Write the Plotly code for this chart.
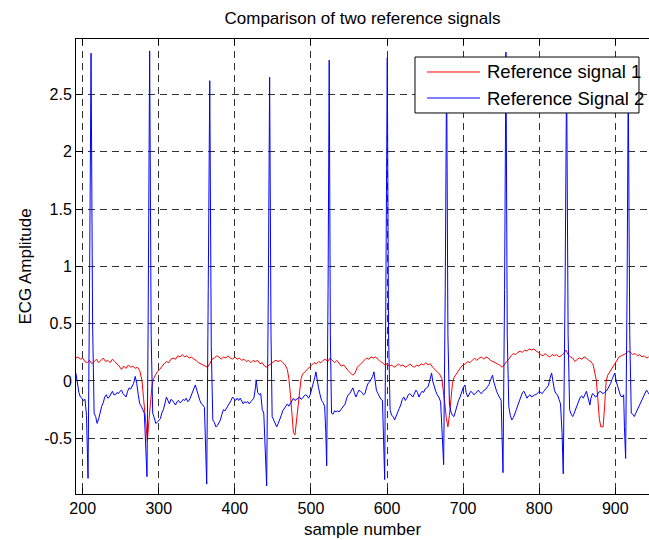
import plotly.graph_objects as go

# Reference signal 1 (red)
red_x = [191, 194, 197, 200, 203, 206, 209, 212, 215, 218, 221, 224, 227, 230, 233, 236, 239, 242, 245, 248,
         251, 254, 257, 260, 263, 266, 269, 272, 275, 278, 280, 282, 285, 287, 289, 291, 293, 295, 298, 301,
         304, 307, 310, 313, 316, 319, 322, 325, 328, 331, 334, 337, 340, 343, 346, 349, 352, 355, 358, 361,
         364, 367, 370, 373, 376, 379, 382, 385, 388, 391, 394, 397, 400, 403, 406, 409, 412, 415, 418, 421,
         424, 427, 430, 433, 436, 439, 442, 445, 448, 451, 454, 457, 460, 463, 466, 469, 471, 473, 475, 477,
         479, 481, 483, 485, 487, 489, 492, 495, 498, 501, 504, 507, 510, 513, 516, 519, 522, 525, 528, 531,
         534, 537, 540, 543, 546, 549, 552, 555, 558, 561, 564, 567, 570, 573, 576, 579, 582, 585, 588, 591,
         594, 597, 600, 603, 606, 609, 612, 615, 618, 621, 624, 627, 630, 633, 636, 639, 642, 645, 648, 651,
         654, 657, 660, 663, 666, 669, 672, 674, 676, 678, 680, 682, 684, 686, 688, 691, 694, 697, 700, 703,
         706, 709, 712, 715, 718, 721, 724, 727, 730, 733, 736, 739, 742, 745, 748, 751, 754, 757, 760, 763,
         766, 769, 772, 775, 778, 781, 784, 787, 790, 793, 796, 799, 802, 805, 808, 811, 814, 817, 820, 823,
         826, 829, 832, 835, 838, 841, 844, 847, 850, 853, 856, 859, 862, 865, 868, 871, 873, 875, 877, 879,
         881, 884, 886, 888, 890, 893, 896, 899, 902, 905, 908, 911, 914, 917, 920, 923, 926, 929, 932, 935,
         938, 941, 944]
red_y = [0.20, 0.21, 0.19, 0.20, 0.17, 0.16, 0.18, 0.15, 0.17, 0.19, 0.16, 0.18, 0.20, 0.17, 0.18, 0.16, 0.19, 0.17, 0.15, 0.13,
         0.10, 0.13, 0.11, 0.14, 0.12, 0.13, 0.11, 0.12, 0.09, 0.00, -0.15, -0.32, -0.52, -0.35, -0.18, -0.05, 0.02, 0.05, 0.08, 0.10,
         0.13, 0.15, 0.17, 0.16, 0.19, 0.20, 0.19, 0.22, 0.21, 0.23, 0.21, 0.22, 0.20, 0.21, 0.19, 0.18, 0.16, 0.15, 0.14, 0.13,
         0.12, 0.15, 0.19, 0.20, 0.22, 0.21, 0.19, 0.21, 0.20, 0.22, 0.20, 0.19, 0.21, 0.19, 0.20, 0.18, 0.19, 0.17, 0.18, 0.16,
         0.18, 0.17, 0.18, 0.15, 0.16, 0.13, 0.12, 0.14, 0.15, 0.17, 0.18, 0.17, 0.18, 0.16, 0.14, 0.10, 0.02, -0.12, -0.30, -0.45,
         -0.47, -0.35, -0.18, -0.06, 0.02, 0.06, 0.08, 0.10, 0.12, 0.14, 0.16, 0.15, 0.17, 0.16, 0.18, 0.19, 0.17, 0.20, 0.18, 0.16,
         0.18, 0.15, 0.13, 0.14, 0.11, 0.09, 0.07, 0.05, 0.07, 0.12, 0.14, 0.16, 0.18, 0.20, 0.19, 0.21, 0.20, 0.21, 0.19, 0.17,
         0.16, 0.14, 0.15, 0.13, 0.14, 0.12, 0.13, 0.15, 0.13, 0.14, 0.12, 0.13, 0.15, 0.13, 0.12, 0.14, 0.13, 0.15, 0.14, 0.16,
         0.14, 0.15, 0.12, 0.10, 0.08, 0.06, 0.02, -0.08, -0.20, -0.33, -0.40, -0.30, -0.14, -0.02, 0.03, 0.06, 0.10, 0.12, 0.14, 0.15,
         0.17, 0.16, 0.18, 0.20, 0.18, 0.20, 0.21, 0.19, 0.21, 0.20, 0.18, 0.17, 0.16, 0.15, 0.14, 0.12, 0.14, 0.17, 0.19, 0.22,
         0.24, 0.23, 0.25, 0.26, 0.25, 0.27, 0.26, 0.28, 0.27, 0.28, 0.26, 0.25, 0.23, 0.22, 0.24, 0.22, 0.21, 0.23, 0.22, 0.23,
         0.21, 0.22, 0.24, 0.27, 0.23, 0.21, 0.20, 0.17, 0.19, 0.20, 0.19, 0.21, 0.20, 0.18, 0.17, 0.14, 0.08, 0.01, -0.15, -0.33,
         -0.40, -0.40, -0.22, 0.00, 0.05, 0.08, 0.12, 0.15, 0.18, 0.21, 0.22, 0.23, 0.24, 0.26, 0.25, 0.23, 0.24, 0.22, 0.23, 0.21,
         0.22, 0.20, 0.21]

# Reference signal 2 (blue)
blue_x = [191, 193, 195, 197, 199, 201, 203, 205, 207, 209, 211, 213, 215, 217, 219, 221, 223, 225, 227, 229,
          231, 233, 235, 237, 239, 241, 243, 245, 247, 249, 251, 253, 255, 257, 259, 261, 263, 265, 267, 269,
          271, 273, 275, 277, 279, 281, 283, 284.5, 286, 288, 290, 292, 294, 296, 298, 300, 302, 304, 306, 308,
          310, 312, 314, 316, 318, 320, 322, 324, 326, 328, 330, 332, 334, 336, 338, 340, 342, 344, 346, 348,
          350, 352, 354, 356, 358, 360, 361.5, 363, 365, 367, 369, 371, 373, 375, 377, 379, 381, 383, 385, 387,
          389, 391, 393, 395, 397, 399, 401, 403, 405, 407, 409, 411, 413, 415, 417, 419, 421, 423, 425, 427,
          428, 430, 432, 434, 436, 438, 440, 441.8, 444, 445.7, 447.5, 449, 451, 453, 455, 457, 459, 461, 463, 465,
          467, 469, 471, 473, 475, 477, 479, 481, 483, 485, 487, 489, 491, 493, 495, 497, 499, 501, 503, 505,
          506.5, 508, 510, 512, 514, 516, 518, 519.5, 520.7, 522.5, 524, 525.5, 527, 529, 531, 533, 535, 537, 539, 541,
          543, 545, 547, 549, 551, 553, 555, 557, 559, 561, 563, 565, 567, 569, 571, 573, 575, 577, 579, 581,
          582.8, 584, 586, 588, 590, 592, 594, 595.5, 596.9, 598.5, 600.3, 602, 604, 606, 608, 610, 612, 614, 616, 618,
          620, 622, 624, 626, 628, 630, 632, 634, 636, 638, 640, 642, 644, 646, 648, 650, 652, 654, 656, 658.6,
          660, 662, 664, 666, 668, 670.4, 672.5, 674.4, 676.5, 678.3, 680, 682, 684, 686, 688, 690, 692, 694, 696, 698,
          700, 702.4, 704, 706, 708, 710, 712, 714, 716, 718, 720, 722, 724, 726, 728, 730, 732, 734, 736, 738.7,
          740, 742, 744, 746, 748, 750, 751, 752.4, 754.5, 756.3, 758, 760, 762, 764, 766, 768, 770, 772, 774, 776,
          778, 780, 782, 784, 786, 788, 790, 792, 794, 796, 798, 800, 802, 804, 806, 808, 810, 812, 814, 816.3,
          818, 820, 822, 824, 826, 828, 830, 831.6, 834, 836, 838, 840, 842, 844, 846, 848, 850, 852, 854, 856,
          858, 860, 862, 864, 866.6, 868, 870, 872, 874, 876, 878, 880, 882, 884, 886, 888, 890, 892, 894, 896,
          899.5, 901, 903, 905, 907, 909, 911, 912, 913.6, 915.5, 917, 919, 921, 923, 925, 927, 929, 931, 933, 935,
          937, 939, 941, 943, 945]
blue_y = [0.07, -0.02, -0.10, -0.14, -0.15, -0.17, -0.16, -0.30, -0.85, 0.80, 2.86, 0.50, -0.28, -0.31, -0.37, -0.33, -0.27, -0.22, -0.19, -0.14,
          -0.12, -0.15, -0.14, -0.11, -0.09, -0.12, -0.12, -0.10, -0.11, -0.09, -0.08, -0.11, -0.13, -0.14, -0.09, -0.06, -0.07, -0.05, -0.02, 0.04,
          -0.02, -0.12, -0.20, -0.22, -0.25, -0.28, -0.60, -0.835, 0.50, 2.88, 0.40, -0.28, -0.32, -0.37, -0.36, -0.34, -0.33, -0.28, -0.25, -0.20,
          -0.14, -0.17, -0.20, -0.16, -0.17, -0.19, -0.21, -0.18, -0.17, -0.19, -0.18, -0.16, -0.17, -0.15, -0.18, -0.17, -0.14, -0.11, -0.07, -0.035,
          -0.08, -0.14, -0.17, -0.20, -0.21, -0.23, -0.50, -0.90, 0.80, 2.62, 0.30, -0.34, -0.36, -0.40, -0.39, -0.36, -0.34, -0.29, -0.25, -0.26,
          -0.24, -0.22, -0.20, -0.17, -0.14, -0.16, -0.17, -0.15, -0.17, -0.15, -0.18, -0.20, -0.18, -0.19, -0.18, -0.20, -0.18, -0.16, -0.15, -0.06,
          0.01, -0.10, -0.12, -0.11, -0.25, -0.28, -0.55, -0.916, 0.80, 2.65, 0.40, -0.31, -0.34, -0.37, -0.40, -0.37, -0.34, -0.30, -0.26, -0.24,
          -0.21, -0.20, -0.22, -0.20, -0.17, -0.15, -0.17, -0.16, -0.15, -0.14, -0.16, -0.15, -0.13, -0.12, -0.13, -0.15, -0.12, -0.07, -0.04, 0.03,
          0.08, 0.00, -0.06, -0.12, -0.17, -0.19, -0.22, -0.45, -0.74, 0.80, 2.80, 0.40, -0.28, -0.29, -0.26, -0.27, -0.26, -0.27, -0.25, -0.24,
          -0.21, -0.20, -0.15, -0.12, -0.11, -0.09, -0.06, -0.10, -0.14, -0.11, -0.08, -0.09, -0.10, -0.12, -0.11, -0.06, -0.02, -0.01, 0.01, 0.04,
          0.08, 0.00, -0.08, -0.11, -0.14, -0.16, -0.17, -0.50, -0.86, 0.80, 2.82, 0.40, -0.25, -0.30, -0.31, -0.34, -0.30, -0.28, -0.24, -0.21,
          -0.16, -0.14, -0.17, -0.15, -0.12, -0.11, -0.13, -0.14, -0.11, -0.08, -0.10, -0.14, -0.11, -0.09, -0.10, -0.07, -0.06, -0.05, 0.00, 0.07,
          0.00, -0.05, -0.09, -0.12, -0.14, -0.18, -0.45, -0.73, 0.80, 2.75, 0.40, -0.20, -0.27, -0.30, -0.31, -0.26, -0.21, -0.17, -0.14, -0.10,
          -0.06, -0.035, -0.10, -0.14, -0.12, -0.09, -0.10, -0.12, -0.11, -0.09, -0.08, -0.10, -0.11, -0.09, -0.08, -0.07, -0.05, -0.03, 0.01, 0.05,
          0.00, -0.05, -0.09, -0.12, -0.15, -0.17, -0.45, -0.80, 0.80, 2.87, 0.40, -0.22, -0.30, -0.34, -0.32, -0.29, -0.25, -0.21, -0.17, -0.13,
          -0.10, -0.09, -0.13, -0.15, -0.13, -0.12, -0.14, -0.13, -0.12, -0.12, -0.10, -0.09, -0.10, -0.11, -0.09, -0.07, -0.06, -0.04, 0.02, 0.07,
          0.00, -0.08, -0.11, -0.12, -0.16, -0.20, -0.45, -0.81, 0.80, 2.70, 0.40, -0.25, -0.29, -0.31, -0.28, -0.24, -0.22, -0.18, -0.14, -0.13,
          -0.15, -0.12, -0.09, -0.14, -0.21, -0.15, -0.11, -0.12, -0.14, -0.13, -0.10, -0.09, -0.10, -0.11, -0.10, -0.09, -0.07, -0.05, -0.02, 0.02,
          0.07, 0.00, -0.05, -0.10, -0.13, -0.14, -0.12, -0.40, -0.675, 0.80, 2.60, 0.40, -0.28, -0.29, -0.31, -0.28, -0.25, -0.22, -0.20, -0.16,
          -0.14, -0.11, -0.08, -0.10, -0.12]

series_names = ["Reference signal 1", "Reference Signal 2"]
series_colors = ["#ff0000", "#0000ff"]

x_ticks = [200, 300, 400, 500, 600, 700, 800, 900]
y_ticks = [-0.5, 0, 0.5, 1, 1.5, 2, 2.5]
y_tick_text = ["-0.5", "0", "0.5", "1", "1.5", "2", "2.5"]

FONT = "Liberation Sans, Arial, Helvetica, sans-serif"

fig = go.Figure()
fig.add_trace(go.Scatter(x=red_x, y=red_y, mode="lines", name=series_names[0],
                         line=dict(color=series_colors[0], width=1), showlegend=False))
fig.add_trace(go.Scatter(x=blue_x, y=blue_y, mode="lines", name=series_names[1],
                         line=dict(color=series_colors[1], width=1), showlegend=False))

axis_common = dict(
    showline=True, linecolor="black", linewidth=1,
    ticks="inside", ticklen=6, tickcolor="black", tickwidth=1,
    showgrid=True, gridcolor="rgba(0,0,0,0.8)", gridwidth=1, griddash="7px,5px",
    zeroline=False, tickfont=dict(family=FONT, size=16, color="black"),
)

# MATLAB-style legend box (paper coordinates of the plot area)
leg_x0, leg_x1, leg_y0, leg_y1 = 0.5916, 0.9825, 0.8374, 0.9604
line_x0, line_x1, text_x = 0.6126, 0.7051, 0.7155
row_y = [0.9275, 0.8703]

shapes = [dict(type="rect", xref="paper", yref="paper", x0=leg_x0, x1=leg_x1, y0=leg_y0, y1=leg_y1,
               fillcolor="white", line=dict(color="black", width=1), layer="above")]
annotations = []
for name, color, yy in zip(series_names, series_colors, row_y):
    shapes.append(dict(type="line", xref="paper", yref="paper", x0=line_x0, x1=line_x1, y0=yy, y1=yy,
                       line=dict(color=color, width=1), layer="above"))
    annotations.append(dict(text=name, xref="paper", yref="paper", x=text_x, y=yy, xanchor="left",
                            yanchor="middle", showarrow=False, borderpad=0,
                            font=dict(family=FONT, size=18.5, color="black")))

fig.update_layout(
    width=649, height=540,
    margin=dict(l=76, r=0, t=39, b=46),
    paper_bgcolor="white", plot_bgcolor="white",
    font=dict(family=FONT, size=16, color="black"),
    title=dict(text="Comparison of two reference signals", x=0.5585, xanchor="center",
               y=1 - 18 / 540, yanchor="middle", font=dict(family=FONT, size=17, color="black")),
    xaxis=dict(range=[191.2, 944.3], tickvals=x_ticks, mirror="ticks",
               title=dict(text="sample number", font=dict(family=FONT, size=17), standoff=6),
               **axis_common),
    yaxis=dict(range=[-0.986, 2.984], tickvals=y_ticks, ticktext=y_tick_text, mirror=False,
               title=dict(text="ECG Amplitude", font=dict(family=FONT, size=17), standoff=8),
               **axis_common),
    shapes=shapes,
    annotations=annotations,
    showlegend=False,
)

fig.write_html("out.html")
